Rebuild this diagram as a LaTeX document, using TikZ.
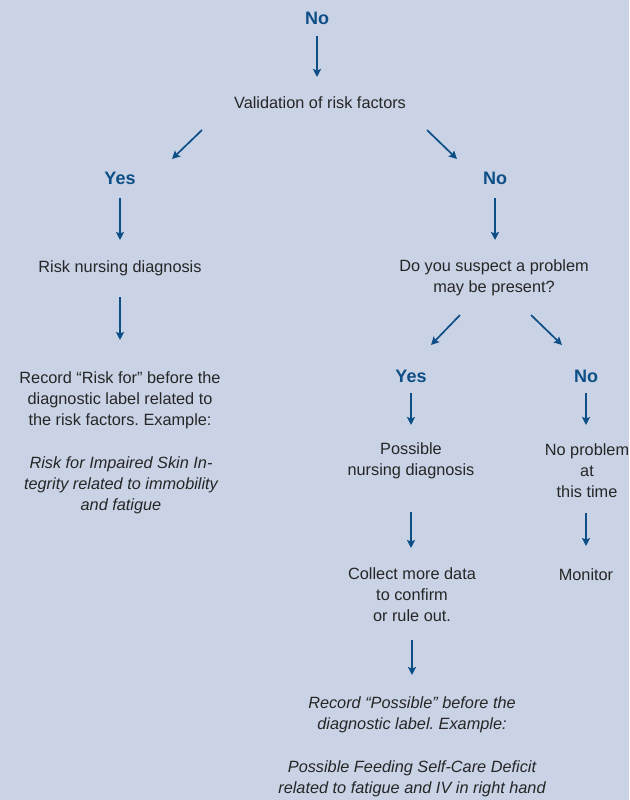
\documentclass[tikz,border=0pt]{standalone}
\usepackage{fontspec}
\setmainfont{Liberation Sans}
\usetikzlibrary{arrows.meta}
\frenchspacing
\definecolor{bgc}{HTML}{C9D3E5}
\definecolor{blu}{HTML}{0D4E86}
\definecolor{txt}{HTML}{262626}
\tikzset{
  body/.style={inner sep=0pt, align=center, text=txt, font=\fontsize{16.3}{21}\selectfont},
  ital/.style={body, font=\fontsize{16.3}{21}\selectfont\itshape},
  ans/.style={inner sep=0pt, text=blu, font=\fontsize{18}{21}\selectfont\bfseries},
  arr/.style={draw=blu, line width=1.7pt, -{Stealth[length=8pt,width=8pt,inset=1.5pt]}}
}
\begin{document}
\begin{tikzpicture}[x=1pt,y=-1pt]
\fill[bgc] (0,0) rectangle (629,800);
\useasboundingbox (0,0) rectangle (629,800);

\node[ans] (no1) at (317,18) {No};
\node[body] (val) at (320,103) {Validation of risk factors};
\node[ans] (yesL) at (120,178) {Yes};
\node[ans] (noR) at (495,178) {No};
\node[body] (risk) at (120,268) {Risk nursing diagnosis};
\node[body] (q) at (494,278) {Do you suspect a problem\\may be present?};
\node[body] (rec1) at (120,400) {Record “Risk for” before the\\diagnostic label related to\\the risk factors. Example:};
\node[ital] (ex1) at (121,485) {Risk for Impaired Skin In-\\tegrity related to immobility\\and fatigue};
\node[ans] (yesR) at (411,376) {Yes};
\node[ans] (noR2) at (586,376) {No};
\node[body] (poss) at (411,461) {Possible\\nursing diagnosis};
\node[body] (noprob) at (587,471) {No problem\\at\\this time};
\node[body] (coll) at (412,595) {Collect more data\\to confirm\\or rule out.};
\node[body] (mon) at (586,575) {Monitor};
\node[ital] (rec2) at (412,715) {Record “Possible” before the\\diagnostic label. Example:};
\node[ital] (ex2) at (412,779) {Possible Feeding Self-Care Deficit\\related to fatigue and IV in right hand};

\draw[arr] ([shift={(0,18)}]no1.center) -- ([shift={(-3,-26)}]val.center);
\draw[arr] ([shift={(-118,27)}]val.center) -- ([shift={(52,-19)}]yesL.center);
\draw[arr] ([shift={(107,27)}]val.center) -- ([shift={(-38,-19)}]noR.center);
\draw[arr] ([shift={(0,20)}]yesL.center) -- ([shift={(0,-28)}]risk.center);
\draw[arr] ([shift={(0,20)}]noR.center) -- ([shift={(1,-38)}]q.center);
\draw[arr] ([shift={(0,29)}]risk.center) -- ([shift={(0,-60)}]rec1.center);
\draw[arr] ([shift={(-34,37)}]q.center) -- ([shift={(20,-31)}]yesR.center);
\draw[arr] ([shift={(37,37)}]q.center) -- ([shift={(-24,-31)}]noR2.center);
\draw[arr] ([shift={(0,17)}]yesR.center) -- ([shift={(0,-36)}]poss.center);
\draw[arr] ([shift={(0,17)}]noR2.center) -- ([shift={(-1,-46)}]noprob.center);
\draw[arr] ([shift={(0,51)}]poss.center) -- ([shift={(-1,-47)}]coll.center);
\draw[arr] ([shift={(-1,42)}]noprob.center) -- ([shift={(0,-29)}]mon.center);
\draw[arr] ([shift={(0,45)}]coll.center) -- ([shift={(0,-40)}]rec2.center);
\end{tikzpicture}
\end{document}
